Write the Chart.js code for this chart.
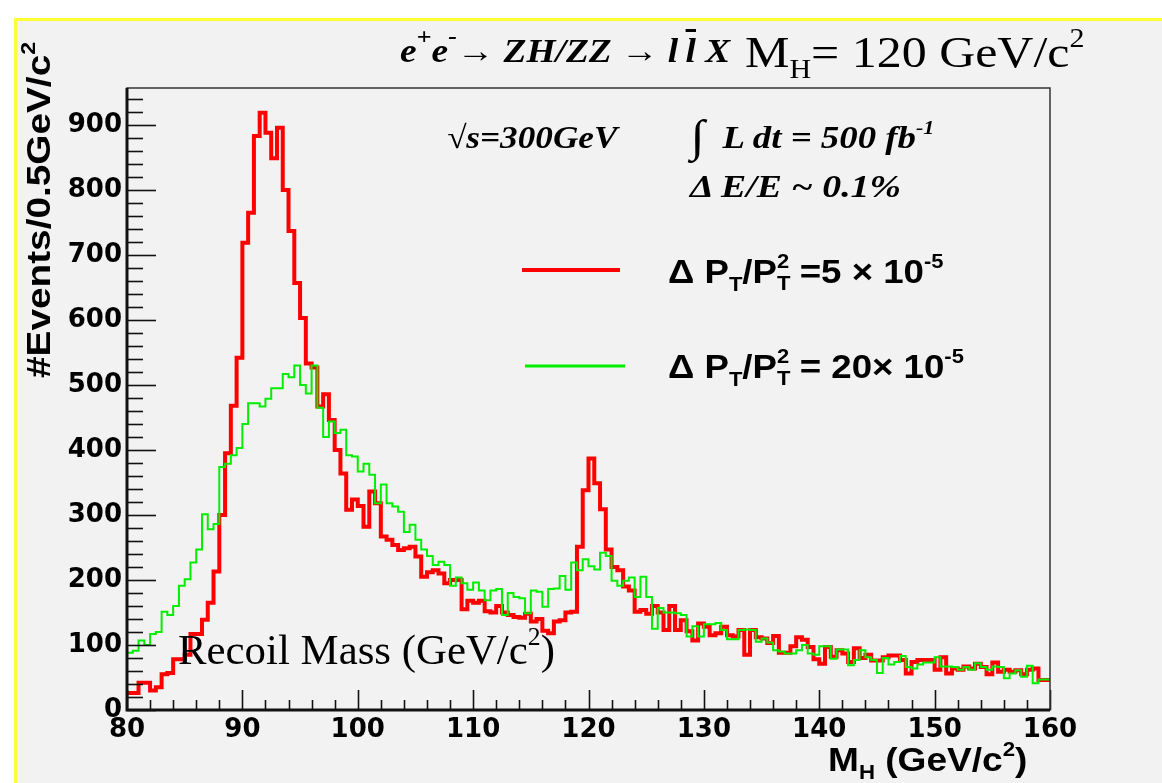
<!DOCTYPE html>
<html>
<head>
<meta charset="utf-8">
<script src="https://cdn.jsdelivr.net/npm/chart.js@4.4.1/dist/chart.umd.min.js"></script>
<style>
  html, body { margin:0; padding:0; background:#ffffff; }
  body { width:1162px; height:783px; position:relative; overflow:hidden; }
  #pad { position:absolute; left:14px; top:18px; width:1148px; height:765px; background:#f2f2f2;
         border-left:3px solid #ffff33; border-top:3px solid #ffff33; }
  #c { position:absolute; left:0; top:0; }
  .t { position:absolute; white-space:nowrap; line-height:1; color:#000; transform-origin:0 0; }
  .serif { font-family:"Liberation Serif","Times New Roman",serif; }
  .sans { font-family:"Liberation Sans",Arial,sans-serif; font-weight:bold; }
  .bi { font-weight:bold; font-style:italic; }
  .sup { font-size:0.6em; position:relative; top:-0.75em; line-height:0; }
  .sub { font-size:0.6em; position:relative; top:0.4em; line-height:0; }
  .ss { display:inline-block; position:relative; width:0.62em; height:1em; }
  .ss .u { position:absolute; left:0; top:0.12em; font-size:0.6em; line-height:1; }
  .ss .d { position:absolute; left:0; top:1.23em; font-size:0.6em; line-height:1; }
  .ol { text-decoration:overline; }
</style>
</head>
<body>
<div id="pad"></div>
<canvas id="c" width="1162" height="783"></canvas>

<div class="t serif bi" style="left:400px; top:34px; font-size:34px; transform:scaleX(1.1);">e<span class="sup" style="font-size:0.7em">+</span>e<span class="sup" style="font-size:0.7em">-</span>→ ZH/ZZ → l&thinsp;<span class="ol">l</span> X</div>
<div class="t serif" style="left:745px; top:30px; font-size:45px; transform:scaleX(1.11);">M<span class="sub">H</span>= 120 GeV/c<span class="sup">2</span></div>

<div class="t serif bi" style="left:447px; top:121px; font-size:32px; transform:scaleX(1.1);">√s=300GeV</div>
<div class="t serif bi" style="left:690px; top:121px; font-size:32px; transform:scaleX(1.15);"><span style="font-size:1.4em; line-height:0; position:relative; top:0.06em">∫</span>&nbsp; L dt = 500 fb<span class="sup">-1</span></div>
<div class="t serif bi" style="left:690px; top:170px; font-size:32px; transform:scaleX(1.18);">Δ E/E ~ 0.1%</div>

<div class="t sans" style="left:668px; top:250px; font-size:33px; transform:scaleX(1.11);">Δ P<span class="sub">T</span>/P<span class="ss"><span class="u">2</span><span class="d">T</span></span>=5 × 10<span class="sup">-5</span></div>
<div class="t sans" style="left:668px; top:345px; font-size:33px; transform:scaleX(1.11);">Δ P<span class="sub">T</span>/P<span class="ss"><span class="u">2</span><span class="d">T</span></span>= 20× 10<span class="sup">-5</span></div>

<div class="t serif" style="left:178px; top:629px; font-size:42px; transform:scaleX(1.02);">Recoil Mass (GeV/c<span class="sup">2</span>)</div>

<div class="t sans" style="left:21px; top:378px; font-size:34px; transform:rotate(-90deg) scaleX(1.14);">#Events/0.5GeV/c<span class="sup">2</span></div>
<div class="t sans" style="left:828px; top:742px; font-size:34px; transform:scaleX(1.09);">M<span class="sub">H</span> (GeV/c<span class="sup">2</span>)</div>

<script>
// Histogram definition: 160 bins of 0.5 GeV/c^2 from 80 to 160
const binStart = 80;
const binWidth = 0.5;

// Delta PT/PT^2 = 5e-5 (red)
const redCounts = [
  26, 26, 42, 42, 30, 35, 55, 57, 78, 78,
  85, 117, 117, 139, 165, 213, 300, 395, 468, 542,
  719, 765, 883, 919, 888, 849, 896, 800, 737, 657,
  603, 533, 527, 467, 486, 446, 400, 364, 308, 324,
  314, 282, 336, 318, 267, 262, 254, 246, 249, 251,
  236, 205, 212, 215, 210, 195, 200, 200, 155, 168,
  165, 168, 152, 150, 160, 150, 146, 143, 142, 148,
  136, 140, 122, 118, 136, 138, 150, 151, 251, 338,
  387, 349, 309, 247, 220, 215, 190, 184, 151, 154,
  148, 160, 150, 123, 160, 123, 138, 121, 107, 133,
  128, 115, 118, 128, 115, 113, 123, 85, 123, 112,
  110, 103, 114, 88, 88, 98, 112, 108, 97, 78,
  71, 97, 82, 92, 87, 74, 95, 80, 85, 76,
  76, 81, 84, 84, 77, 56, 74, 77, 77, 77,
  62, 81, 56, 64, 62, 67, 64, 71, 66, 55,
  73, 59, 62, 59, 61, 55, 62, 64, 46, 46
];

// Delta PT/PT^2 = 20e-5 (green)
const greenCounts = [
  88, 91, 107, 100, 117, 120, 151, 146, 160, 191,
  201, 227, 247, 301, 278, 286, 374, 379, 392, 403,
  440, 472, 472, 467, 479, 495, 495, 517, 512, 530,
  500, 487, 530, 465, 420, 444, 426, 431, 392, 390,
  367, 379, 362, 318, 347, 318, 313, 305, 274, 285,
  262, 247, 237, 223, 228, 223, 191, 204, 195, 185,
  196, 184, 169, 184, 186, 146, 180, 174, 172, 149,
  184, 182, 159, 186, 187, 206, 185, 227, 215, 232,
  221, 216, 242, 237, 199, 191, 199, 204, 174, 205,
  174, 125, 157, 150, 150, 149, 146, 113, 129, 113,
  132, 132, 134, 123, 109, 109, 123, 124, 123, 105,
  110, 104, 92, 90, 87, 87, 92, 100, 87, 85,
  98, 98, 79, 93, 93, 69, 77, 92, 81, 77,
  57, 80, 70, 74, 83, 66, 64, 70, 73, 73,
  81, 67, 67, 66, 62, 66, 62, 72, 66, 62,
  67, 66, 49, 56, 61, 51, 68, 41, 47, 47
];

const xTickValues = [80, 90, 100, 110, 120, 130, 140, 150, 160];
const yTickValues = [0, 100, 200, 300, 400, 500, 600, 700, 800, 900];

function histPoints(counts) {
  const pts = counts.map((v, i) => ({ x: binStart + i * binWidth, y: v }));
  pts.push({ x: binStart + counts.length * binWidth, y: counts[counts.length - 1] });
  return pts;
}

const frameTicks = {
  id: 'frameTicks',
  afterDatasetsDraw(chart) {
    const { ctx, chartArea: a, scales: { x, y } } = chart;
    ctx.save();
    ctx.strokeStyle = '#111';
    ctx.lineWidth = 1.6;
    for (let v = y.min; v <= y.max; v += 20) {
      const py = Math.round(y.getPixelForValue(v)) + 0.5;
      const len = (v % 100 === 0) ? 29 : 16;
      ctx.beginPath(); ctx.moveTo(a.left, py); ctx.lineTo(a.left + len, py); ctx.stroke();
    }
    for (let v = x.min; v <= x.max; v += 2) {
      const px = Math.round(x.getPixelForValue(v)) + 0.5;
      const len = (v % 10 === 0) ? 20 : 10;
      ctx.beginPath(); ctx.moveTo(px, a.bottom); ctx.lineTo(px, a.bottom - len); ctx.stroke();
    }
    ctx.strokeStyle = '#333';
    ctx.lineWidth = 1.5;
    ctx.strokeRect(a.left, a.top, a.right - a.left, a.bottom - a.top);
    ctx.strokeStyle = '#111';
    ctx.lineWidth = 3;
    ctx.beginPath();
    ctx.moveTo(a.left, a.top); ctx.lineTo(a.left, a.bottom); ctx.lineTo(a.right, a.bottom);
    ctx.stroke();
    ctx.restore();
  }
};

const legendLines = {
  id: 'legendLines',
  afterDraw(chart) {
    const ctx = chart.ctx;
    ctx.save();
    ctx.lineWidth = 4; ctx.strokeStyle = '#ff0000';
    ctx.beginPath(); ctx.moveTo(522, 270); ctx.lineTo(620, 270); ctx.stroke();
    ctx.lineWidth = 3; ctx.strokeStyle = '#00ee00';
    ctx.beginPath(); ctx.moveTo(525, 366); ctx.lineTo(625, 366); ctx.stroke();
    ctx.restore();
  }
};

const tickFont = { family: 'DejaVu Sans', weight: 'bold', size: 26 };

new Chart(document.getElementById('c'), {
  type: 'line',
  data: {
    datasets: [
      { label: 'dPT/PT2 = 20e-5', data: histPoints(greenCounts), borderColor: '#00ee00',
        borderWidth: 2, stepped: 'before', pointRadius: 0, fill: false, order: 0 },
      { label: 'dPT/PT2 = 5e-5', data: histPoints(redCounts), borderColor: '#ff0000',
        borderWidth: 4, stepped: 'before', pointRadius: 0, fill: false, order: 1 }
    ]
  },
  options: {
    responsive: false,
    animation: false,
    devicePixelRatio: 1,
    layout: { padding: { left: 0, right: 112, top: 88, bottom: 0 } },
    plugins: { legend: { display: false }, tooltip: { enabled: false }, title: { display: false } },
    scales: {
      x: {
        type: 'linear', min: 80, max: 160,
        afterFit: s => { s.height = 73; },
        afterBuildTicks: s => { s.ticks = xTickValues.map(v => ({ value: v })); },
        grid: { display: false, drawTicks: false },
        border: { display: false },
        ticks: { color: '#000', font: tickFont, padding: 5, maxRotation: 0, autoSkip: false }
      },
      y: {
        type: 'linear', min: 0, max: 957,
        afterFit: s => { s.width = 127; },
        afterBuildTicks: s => { s.ticks = yTickValues.map(v => ({ value: v })); },
        grid: { display: false, drawTicks: false },
        border: { display: false },
        ticks: { color: '#000', font: tickFont, padding: 5, autoSkip: false }
      }
    }
  },
  plugins: [frameTicks, legendLines]
});
</script>
</body>
</html>
